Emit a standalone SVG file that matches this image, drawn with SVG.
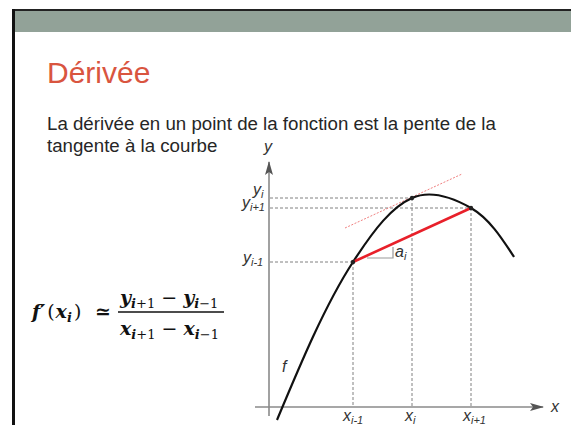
<svg xmlns="http://www.w3.org/2000/svg" width="571" height="425" viewBox="0 0 571 425">
<style>
.body{font-family:"Liberation Sans",Arial,sans-serif;fill:#262626}
.lbl{font-family:"Liberation Sans",Arial,sans-serif;font-style:italic;fill:#333;font-size:16px}
.sub{font-size:11px}
.math{font-family:"DejaVu Serif","Liberation Serif",serif;font-style:italic;font-weight:bold;fill:#111;font-size:19px}
.msub{font-size:13px}
.up{font-style:normal}
.dash{stroke:#808080;stroke-width:1;stroke-dasharray:3 2;fill:none}
.axis{stroke:#8a8a8a;stroke-width:1.6;fill:none}
</style>
<defs>
<marker id="arr" viewBox="0 0 14 8" refX="13" refY="4" markerWidth="14" markerHeight="8" markerUnits="userSpaceOnUse" orient="auto">
<path d="M0,0 L14,4 L0,8 L3,4 Z" fill="#555"/>
</marker>
</defs>
<rect width="571" height="425" fill="#fff"/>
<g id="frame">
<rect x="14" y="11" width="557" height="21" fill="#92A298"/>
<line x1="12" y1="10" x2="571" y2="10" stroke="#222" stroke-width="2"/>
<line x1="13.5" y1="9" x2="13.5" y2="425" stroke="#111" stroke-width="3"/>
</g>
<g id="title">
<text x="47" y="83" font-family="Liberation Sans,Arial,sans-serif" font-size="30" fill="#D9553F">Dérivée</text>
</g>
<g id="text">
<text class="body" x="47" y="130" font-size="18.7">La dérivée en un point de la fonction est la pente de la</text>
<text class="body" x="47" y="152" font-size="18.7">tangente à la courbe</text>
</g>
<g id="formula">
<text class="math" x="32" y="318" font-size="20">f′<tspan class="up" font-weight="normal" dx="2">(</tspan><tspan dx="1">x</tspan><tspan class="msub" dy="4">i</tspan><tspan class="up" font-weight="normal" dy="-4" dx="2">)</tspan></text>
<text class="math up" x="95" y="318" font-weight="normal">≃</text>
<line x1="118" y1="312" x2="224" y2="312" stroke="#111" stroke-width="1.3"/>
<text class="math" x="120" y="304">y<tspan class="msub" dy="4">i</tspan><tspan class="msub up" font-weight="normal">+1</tspan><tspan class="up" font-weight="normal" dy="-4"> − </tspan>y<tspan class="msub" dy="4">i</tspan><tspan class="msub up" font-weight="normal">−1</tspan></text>
<text class="math" x="120" y="335">x<tspan class="msub" dy="4">i</tspan><tspan class="msub up" font-weight="normal">+1</tspan><tspan class="up" font-weight="normal" dy="-4"> − </tspan>x<tspan class="msub" dy="4">i</tspan><tspan class="msub up" font-weight="normal">−1</tspan></text>
</g>
<g id="guides">
<line class="dash" x1="270" y1="198" x2="412" y2="198"/>
<line class="dash" x1="270" y1="208" x2="471" y2="208"/>
<line class="dash" x1="270" y1="262" x2="353" y2="262"/>
<line class="dash" x1="353" y1="262" x2="353" y2="407"/>
<line class="dash" x1="412" y1="198" x2="412" y2="407"/>
<line class="dash" x1="471" y1="208" x2="471" y2="407"/>
</g>
<g id="axes">
<line class="axis" x1="269" y1="416" x2="269" y2="162" marker-end="url(#arr)"/>
<line class="axis" x1="255" y1="407" x2="543" y2="407" marker-end="url(#arr)"/>
</g>
<g id="connectors">
<line x1="345" y1="228" x2="462" y2="174" stroke="#F08080" stroke-width="1" stroke-dasharray="2 1.5"/>
<path d="M277,420 C300,365 325,305 353,262 C375,228 392,207 412,198 C430,190 450,196 471,208 C490,219 503,240 514,257" fill="none" stroke="#111" stroke-width="2.2"/>
<line x1="353" y1="262" x2="471" y2="208" stroke="#E8202A" stroke-width="2.6"/>
<polyline points="367,258 393,258 393,247" fill="none" stroke="#999" stroke-width="1.2"/>
<circle cx="353" cy="262" r="2.2" fill="#222"/>
<circle cx="412" cy="198" r="2.2" fill="#222"/>
<circle cx="471" cy="208" r="2.2" fill="#222"/>
</g>
<g id="labels">
<text class="lbl" x="264" y="152">y</text>
<text class="lbl" x="253" y="195" font-size="17">y<tspan class="sub" dy="3">i</tspan></text>
<text class="lbl" x="242" y="208" font-size="17">y<tspan class="sub" dy="3">i+1</tspan></text>
<text class="lbl" x="243" y="263" font-size="17">y<tspan class="sub" dy="3">i-1</tspan></text>
<text class="lbl" x="395" y="257" font-size="17">a<tspan class="sub" dy="3">i</tspan></text>
<text class="lbl" x="282" y="372" font-size="21">f</text>
<text class="lbl" x="343" y="421" font-size="17">x<tspan class="sub" dy="3">i-1</tspan></text>
<text class="lbl" x="405" y="421" font-size="17">x<tspan class="sub" dy="3">i</tspan></text>
<text class="lbl" x="463" y="421" font-size="17">x<tspan class="sub" dy="3">i+1</tspan></text>
<text class="lbl" x="551" y="412" font-size="17">x</text>
</g>
</svg>
